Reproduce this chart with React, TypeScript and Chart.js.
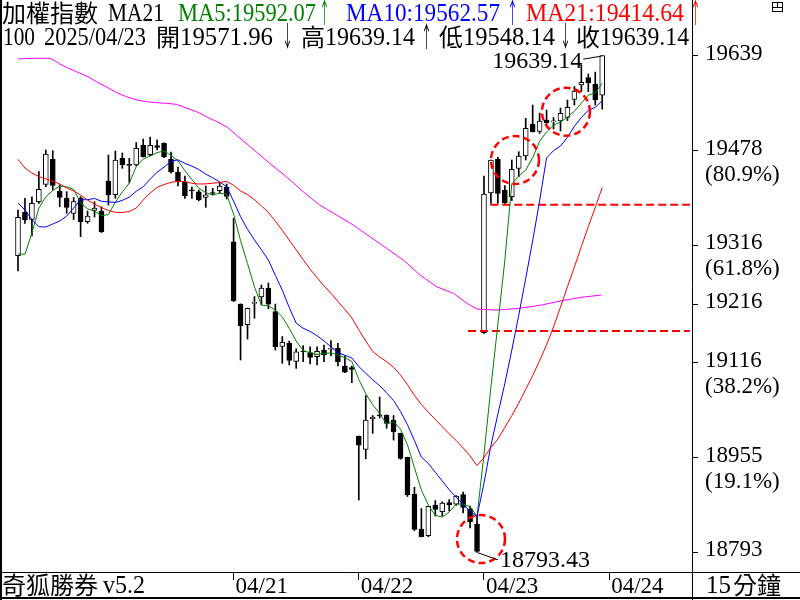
import React, { useEffect, useRef } from "react";
import { Chart, registerables } from "chart.js";

Chart.register(...registerables);

// ---------- data (15-minute bars, 加權指數) ----------
const opens = [
  19298.5, 19372.4, 19360.5, 19390.5, 19420.1, 19462.7, 19408.7, 19396.3, 19370.7, 19396.8,
  19356.7, 19375.5, 19374.6, 19425.7, 19402.4, 19464.4, 19453.5, 19453.0, 19487.0, 19470.5,
  19486.2, 19489.9, 19462.8, 19441.0, 19424.0, 19410.0, 19407.5, 19398.0, 19405.3, 19409.2,
  19415.5, 19322.3, 19216.2, 19181.3, 19217.4, 19228.2, 19243.5, 19203.5, 19143.9, 19149.3,
  19118.3, 19135.5, 19133.7, 19126.5, 19137.9, 19139.3, 19140.8, 19110.7, 19108.1, 18991.4,
  18968.8, 19020.4, 19026.5, 19027.2, 19018.7, 18996.0, 18955.2, 18892.7, 18833.1, 18821.7,
  18873.9, 18862.5, 18878.2, 18875.6, 18891.8, 18867.1, 18841.6, 19167.4, 19405.3, 19462.7,
  19410.4, 19399.0, 19447.3, 19468.3, 19522.8, 19510.4, 19529.6, 19526.4, 19527.9, 19533.9,
  19564.8, 19589.2, 19602.0, 19590.9, 19571.96,
];
const highs = [
  19376.3, 19396.3, 19399.0, 19441.6, 19478.5, 19477.3, 19419.4, 19407.5, 19397.6, 19399.0,
  19374.6, 19390.5, 19381.9, 19470.0, 19476.8, 19473.4, 19464.4, 19491.3, 19497.2, 19500.6,
  19496.0, 19490.9, 19475.1, 19449.6, 19434.2, 19415.5, 19410.4, 19417.2, 19413.3, 19423.2,
  19420.6, 19362.2, 19216.5, 19209.4, 19229.0, 19248.6, 19252.0, 19216.2, 19160.9, 19153.2,
  19140.1, 19145.6, 19143.5, 19143.5, 19146.4, 19154.1, 19149.3, 19127.7, 19110.5, 18991.5,
  19060.4, 19026.4, 19057.9, 19027.5, 19026.4, 18996.3, 18955.5, 18904.1, 18868.0, 18872.2,
  18881.6, 18879.6, 18883.3, 18890.1, 18896.1, 18872.2, 18856.9, 19434.2, 19461.5, 19466.1,
  19418.1, 19461.5, 19475.6, 19532.5, 19555.1, 19541.5, 19546.6, 19533.9, 19550.0, 19563.7,
  19586.6, 19623.3, 19607.9, 19611.3, 19639.14,
];
const lows = [
  19272.5, 19353.7, 19332.1, 19387.7, 19416.0, 19410.4, 19381.9, 19370.7, 19360.1, 19330.9,
  19353.7, 19364.4, 19338.0, 19384.8, 19396.3, 19447.3, 19422.3, 19451.3, 19466.6, 19469.1,
  19478.5, 19465.7, 19439.3, 19417.2, 19395.9, 19396.3, 19392.2, 19380.9, 19401.9, 19404.8,
  19395.1, 19220.2, 19120.9, 19156.6, 19191.9, 19215.0, 19208.2, 19137.9, 19115.3, 19112.4,
  19106.7, 19118.0, 19114.1, 19112.4, 19118.0, 19127.7, 19110.7, 19099.2, 19082.2, 18882.5,
  18952.8, 18996.0, 19022.1, 19004.6, 18984.6, 18951.8, 18888.4, 18830.5, 18819.5, 18820.0,
  18855.2, 18855.2, 18863.7, 18873.1, 18860.3, 18834.8, 18793.43, 19166.4, 19387.7, 19387.7,
  19387.5, 19392.5, 19433.0, 19461.5, 19509.2, 19506.9, 19521.1, 19514.3, 19510.9, 19528.7,
  19555.1, 19577.8, 19577.8, 19555.1, 19548.14,
];
const closes = [
  19363.9, 19359.3, 19387.7, 19411.6, 19471.4, 19418.1, 19397.6, 19380.6, 19390.8, 19356.4,
  19366.1, 19379.7, 19339.4, 19401.9, 19461.5, 19453.5, 19452.5, 19481.4, 19467.1, 19486.5,
  19482.8, 19467.1, 19441.6, 19424.0, 19400.2, 19409.0, 19393.4, 19402.4, 19404.5, 19417.2,
  19399.3, 19221.9, 19179.3, 19208.9, 19218.0, 19243.5, 19216.2, 19143.5, 19151.0, 19120.4,
  19135.0, 19134.5, 19125.5, 19135.7, 19129.4, 19140.0, 19118.0, 19100.4, 19104.7, 18976.1,
  19018.7, 19023.8, 19026.0, 19013.1, 18998.8, 18953.5, 18891.5, 18832.2, 18820.0, 18871.7,
  18866.3, 18877.3, 18874.5, 18889.3, 18869.7, 18845.0, 18795.0, 19403.6, 19461.5, 19404.8,
  19388.8, 19445.6, 19468.3, 19515.5, 19509.7, 19527.9, 19525.0, 19527.0, 19541.0, 19551.2,
  19579.0, 19593.8, 19593.1, 19563.7, 19639.14,
];
const ma5 = [
  19301.4, 19301.0, 19337.2, 19379.7, 19398.8, 19409.6, 19417.3, 19415.9, 19411.7, 19388.7,
  19378.3, 19374.7, 19366.5, 19368.7, 19389.7, 19407.2, 19421.8, 19450.2, 19463.2, 19468.2,
  19474.1, 19477.0, 19469.0, 19460.4, 19443.1, 19428.4, 19413.6, 19405.8, 19401.9, 19405.3,
  19403.4, 19369.1, 19324.4, 19285.3, 19245.5, 19214.3, 19213.2, 19206.0, 19194.4, 19174.9,
  19153.2, 19136.9, 19133.3, 19130.2, 19132.0, 19133.0, 19129.7, 19124.7, 19118.5, 19087.8,
  19063.6, 19044.7, 19029.9, 19011.5, 19016.1, 19003.0, 18976.6, 18937.8, 18899.2, 18873.8,
  18856.3, 18853.5, 18862.0, 18875.8, 18875.4, 18871.2, 18854.7, 18960.5, 19075.0, 19182.0,
  19290.7, 19420.9, 19433.8, 19444.6, 19465.6, 19493.4, 19509.3, 19521.0, 19526.1, 19534.4,
  19544.6, 19558.4, 19571.6, 19576.2, 19592.07,
];
const ma10 = [
  19388.3, 19376.3, 19360.1, 19347.9, 19347.4, 19352.5, 19357.6, 19366.1, 19379.7, 19393.7,
  19394.0, 19396.0, 19391.2, 19390.2, 19389.2, 19392.8, 19398.2, 19408.3, 19416.0, 19429.0,
  19440.6, 19449.4, 19459.6, 19461.8, 19455.7, 19451.2, 19445.3, 19437.4, 19431.2, 19424.2,
  19415.9, 19391.4, 19365.1, 19343.6, 19325.4, 19308.8, 19291.1, 19265.2, 19239.9, 19210.2,
  19183.8, 19175.0, 19169.7, 19162.3, 19153.5, 19143.1, 19133.3, 19129.0, 19124.4, 19109.9,
  19098.3, 19087.2, 19077.3, 19065.0, 19052.0, 19033.3, 19010.7, 18983.8, 18955.4, 18944.9,
  18929.7, 18915.0, 18899.9, 18887.5, 18874.6, 18863.7, 18854.1, 18911.2, 18975.4, 19028.7,
  19081.0, 19137.8, 19197.2, 19259.8, 19323.8, 19392.1, 19465.1, 19477.4, 19485.4, 19500.0,
  19519.0, 19533.8, 19546.3, 19551.1, 19562.57,
];
const ma21 = [
  19462.7, 19447.9, 19439.3, 19433.4, 19429.1, 19425.7, 19420.6, 19413.8, 19408.7, 19401.9,
  19393.4, 19386.5, 19380.6, 19375.5, 19372.4, 19372.1, 19373.8, 19379.7, 19393.4, 19405.3,
  19414.8, 19419.7, 19423.6, 19425.3, 19424.8, 19421.8, 19420.6, 19420.9, 19422.0, 19423.2,
  19425.3, 19418.4, 19408.9, 19402.7, 19393.9, 19383.5, 19372.2, 19357.5, 19341.8, 19325.3,
  19308.5, 19291.9, 19275.7, 19261.1, 19247.1, 19234.7, 19220.8, 19206.9, 19192.7, 19172.3,
  19153.3, 19135.5, 19126.1, 19118.2, 19108.2, 19095.6, 19078.8, 19060.6, 19045.2, 19031.9,
  19019.8, 19007.5, 18995.1, 18983.9, 18971.2, 18957.6, 18941.2, 18954.8, 18972.0, 18986.3,
  19006.0, 19026.3, 19047.5, 19070.8, 19094.4, 19119.6, 19146.8, 19177.1, 19210.8, 19245.7,
  19279.3, 19314.0, 19348.1, 19380.9, 19414.64,
];
const longMaAt = [
  0, 1.7, 4.6, 5.3, 6.0, 7.0, 8.4, 9.9, 11.3, 12.8,
  14.2, 15.6, 17.1, 18.5, 19.9, 21.4, 22.8, 24.3, 25.7, 27.1,
  28.6, 30.0, 31.4, 33.4, 36.2, 38.6, 41.0, 43.4, 45.8, 48.2,
  50.6, 53.0, 55.4, 57.8, 60.2, 62.6, 64.7, 66.0, 68.6, 71.9,
  75.3, 78.2, 81.0, 83.9,
];
const longMaVal = [
  19633.5, 19634.7, 19634.7, 19630.6, 19625.0, 19619.3, 19611.9, 19604.5, 19594.8, 19585.3,
  19576.1, 19569.3, 19563.7, 19560.8, 19559.1, 19558.0, 19556.3, 19549.5, 19543.7, 19535.2,
  19526.7, 19518.2, 19504.1, 19484.1, 19455.9, 19433.1, 19407.5, 19384.8, 19367.8, 19350.8,
  19330.9, 19311.1, 19291.2, 19265.7, 19245.7, 19234.5, 19216.3, 19207.7, 19206.0, 19208.6,
  19214.6, 19221.9, 19227.7, 19231.6,
];
const dayTicks = [31, 49, 67, 85];
const dayLabels = ["04/21", "04/22", "04/23", "04/24"];
const priceTicks = [18793.43, 18954.96, 19116.49, 19216.29, 19316.08, 19477.61, 19639.14];
const priceTickLabels = [
  ["18793", ""], ["18955", "(19.1%)"], ["19116", "(38.2%)"], ["19216", ""],
  ["19316", "(61.8%)"], ["19478", "(80.9%)"], ["19639", ""],
];
const gapFrom = [64.7, 67.9];
const gapLevel = [19170.3, 19385.5];
const gapTo = 96.6;
const markIdx = [66.57, 71.46, 78.79];
const markVal = [18816.0, 19461.5, 19543.7];
const highBar = 84;
const lowBar = 66;

// ---------- layout constants ----------
const SERIF = '"Liberation Serif", "Noto Sans CJK TC", serif';
const CJK = '"Noto Sans CJK TC", "Liberation Serif", sans-serif';
const GREEN = "#008000";
const BLUE = "#0000ff";
const RED = "#ff0000";
const MAGENTA = "#ff00ff";

function fitText(ctx: CanvasRenderingContext2D, text: string, x: number, y: number, width: number | null, font: string, color: string) {
  ctx.save();
  ctx.font = font;
  ctx.fillStyle = color;
  ctx.textAlign = "left";
  ctx.textBaseline = "alphabetic";
  const w = ctx.measureText(text).width;
  ctx.translate(x, y);
  if (width && w > 0) ctx.scale(width / w, 1);
  ctx.fillText(text, 0, 0);
  ctx.restore();
}

const overlayPlugin = {
  id: "overlay",
  beforeDraw(chart: any) {
    const ctx = chart.ctx;
    ctx.save();
    ctx.fillStyle = "#ffffff";
    ctx.fillRect(0, 0, chart.width, chart.height);
    ctx.restore();
  },
  afterDraw(chart: any) {
    const ctx: CanvasRenderingContext2D = chart.ctx;
    const xs = chart.scales.x;
    const ys = chart.scales.y;
    const area = chart.chartArea;
    ctx.save();

    // dashed marker circles
    ctx.strokeStyle = RED;
    ctx.lineWidth = 2.5;
    ctx.setLineDash([7, 4]);
    for (let k = 0; k < markIdx.length; k++) {
      const cx = xs.getPixelForValue(markIdx[k]);
      const cy = ys.getPixelForValue(markVal[k]);
      ctx.beginPath();
      ctx.arc(cx, cy, 24, 0, Math.PI * 2);
      ctx.stroke();
    }
    ctx.setLineDash([]);

    // high / low annotations
    const hx = xs.getPixelForValue(highBar);
    const hy = ys.getPixelForValue(highs[highBar]);
    ctx.strokeStyle = "#000";
    ctx.lineWidth = 1;
    ctx.beginPath();
    ctx.moveTo(hx - 19, hy + 3.5);
    ctx.lineTo(hx - 1, hy + 0.5);
    ctx.stroke();
    ctx.font = "24px " + SERIF;
    ctx.fillStyle = "#000";
    ctx.textAlign = "right";
    ctx.textBaseline = "alphabetic";
    ctx.fillText(highs[highBar].toFixed(2), hx - 20, hy + 12);

    const lx = xs.getPixelForValue(lowBar);
    const ly = ys.getPixelForValue(lows[lowBar]);
    ctx.beginPath();
    ctx.moveTo(lx + 1, ly + 0.5);
    ctx.lineTo(lx + 21, ly + 7.5);
    ctx.stroke();
    ctx.textAlign = "left";
    ctx.fillText(lows[lowBar].toFixed(2), lx + 23, ly + 15);

    // frame
    ctx.fillStyle = "#000";
    ctx.fillRect(0, 0, 2, chart.height);
    ctx.fillRect(0, chart.height - 3, chart.width, 2);
    ctx.fillRect(area.right, area.bottom, chart.width - area.right, 1);
    ctx.fillRect(area.right, area.bottom, 1, chart.height - area.bottom);

    // window icon
    ctx.strokeStyle = "#000";
    ctx.lineWidth = 1;
    ctx.strokeRect(772.5, 2.5, 10, 9);
    ctx.beginPath();
    ctx.moveTo(772, 7.5); ctx.lineTo(783, 7.5);
    ctx.moveTo(777.5, 2); ctx.lineTo(777.5, 7.5);
    ctx.stroke();

    // header line 1
    const L = "25px " + SERIF;
    const C = "24px " + CJK;
    const A = "28px " + CJK;
    fitText(ctx, "加權指數", 2, 22, null, C, "#000");
    fitText(ctx, "MA21", 108, 21, 56, L, "#000");
    fitText(ctx, "MA5:" + ma5[ma5.length - 1].toFixed(2), 178, 21, 138, L, GREEN);
    fitText(ctx, "↑", 319, 23, 11, A, GREEN);
    fitText(ctx, "MA10:" + ma10[ma10.length - 1].toFixed(2), 346, 21, 154, L, BLUE);
    fitText(ctx, "↑", 507, 23, 11, A, BLUE);
    fitText(ctx, "MA21:" + ma21[ma21.length - 1].toFixed(2), 526, 21, 158, L, RED);
    fitText(ctx, "↑", 690, 23, 11, A, RED);

    // header line 2
    const n = closes.length - 1;
    fitText(ctx, "100", 3, 45, 32, L, "#000");
    fitText(ctx, "2025/04/23", 44, 45, 102, L, "#000");
    fitText(ctx, "開", 156, 46, null, C, "#000");
    fitText(ctx, opens[n].toFixed(2), 180, 45, 93, L, "#000");
    fitText(ctx, "↓", 282, 47, 11, A, "#000");
    fitText(ctx, "高", 301, 46, null, C, "#000");
    fitText(ctx, highs[n].toFixed(2), 325, 45, 90, L, "#000");
    fitText(ctx, "↑", 421, 47, 11, A, "#000");
    fitText(ctx, "低", 439, 46, null, C, "#000");
    fitText(ctx, lows[n].toFixed(2), 463, 45, 92, L, "#000");
    fitText(ctx, "↓", 560, 47, 11, A, "#000");
    fitText(ctx, "收", 576, 46, null, C, "#000");
    fitText(ctx, closes[n].toFixed(2), 600, 45, 89, L, "#000");

    // bottom bar
    fitText(ctx, "奇狐勝券", 2, 594, null, C, "#000");
    fitText(ctx, "v5.2", 103, 593, 42, L, "#000");
    fitText(ctx, "15", 706, 593, null, L, "#000");
    fitText(ctx, "分鐘", 733, 594, null, C, "#000");

    ctx.restore();
  },
};

export default function App() {
  const canvasRef = useRef<HTMLCanvasElement | null>(null);

  useEffect(() => {
    const canvas = canvasRef.current;
    if (!canvas) return;

    const wicks = lows.map((l, i) => ({ x: i, y: [l, highs[i]] }));
    const bodies = opens.map((o, i) => ({ x: i, y: [Math.min(o, closes[i]), Math.max(o, closes[i])] }));
    const bodyColors = opens.map((o, i) => (closes[i] >= o ? "#ffffff" : "#000000"));
    const line = (vals: number[], color: string) => ({
      type: "line",
      data: vals.map((v, i) => ({ x: i, y: v })),
      borderColor: color,
      borderWidth: 1,
      pointRadius: 0,
      tension: 0,
      fill: false,
      order: 0,
    });

    const chart = new Chart(canvas, {
      type: "bar",
      data: {
        datasets: [
          {
            type: "bar",
            data: wicks,
            backgroundColor: "#000000",
            borderWidth: 0,
            barThickness: 1,
            grouped: false,
            order: 3,
          },
          {
            type: "bar",
            data: bodies,
            backgroundColor: bodyColors,
            borderColor: "#000000",
            borderWidth: 1,
            borderSkipped: false,
            barThickness: 5,
            minBarLength: 1,
            grouped: false,
            order: 2,
          },
          {
            type: "line",
            data: longMaAt.map((x, i) => ({ x, y: longMaVal[i] })),
            borderColor: MAGENTA,
            borderWidth: 1,
            pointRadius: 0,
            tension: 0,
            fill: false,
            order: 1,
          },
          line(ma21, RED),
          line(ma10, BLUE),
          line(ma5, GREEN),
          ...gapFrom.map((f, k) => ({
            type: "line",
            data: [{ x: f, y: gapLevel[k] }, { x: gapTo, y: gapLevel[k] }],
            borderColor: RED,
            borderWidth: 2,
            borderDash: [8, 4],
            pointRadius: 0,
            fill: false,
            order: 0,
          })),
        ] as any,
      },
      options: {
        responsive: false,
        animation: false,
        devicePixelRatio: 1,
        events: [],
        layout: { padding: 0 },
        plugins: {
          legend: { display: false },
          tooltip: { enabled: false },
          title: { display: false },
        },
        scales: {
          x: {
            type: "linear",
            min: -2.588,
            max: 96.91,
            offset: false,
            bounds: "data",
            grid: { display: true, drawOnChartArea: false, drawTicks: true, tickLength: 8, color: "#000", offset: false },
            border: { display: true, color: "#000", width: 1 },
            ticks: {
              autoSkip: false,
              maxRotation: 0,
              minRotation: 0,
              align: "start",
              padding: -5,
              labelOffset: 2,
              color: "#000",
              font: { family: SERIF, size: 23, lineHeight: "23px" },
              callback: (_v: any, i: number) => dayLabels[i],
            },
            afterBuildTicks: (scale: any) => {
              scale.ticks = dayTicks.map((v) => ({ value: v }));
            },
            afterFit: (scale: any) => {
              scale.height = 28;
              scale.paddingLeft = 0;
              scale.paddingRight = 0;
            },
          },
          y: {
            type: "linear",
            position: "right",
            min: 18759.9,
            max: 19734.0,
            bounds: "data",
            grid: { display: true, drawOnChartArea: false, drawTicks: true, tickLength: 6, color: "#000" },
            border: { display: true, color: "#000", width: 1 },
            ticks: {
              padding: 7,
              labelOffset: 11,
              color: "#000",
              font: { family: SERIF, size: 23, lineHeight: "26px" },
              callback: (_v: any, i: number) => priceTickLabels[i],
            },
            afterBuildTicks: (scale: any) => {
              scale.ticks = priceTicks.map((v) => ({ value: v }));
            },
            afterFit: (scale: any) => {
              scale.width = 108;
              scale.paddingTop = 0;
              scale.paddingBottom = 0;
            },
          },
        },
      } as any,
      plugins: [overlayPlugin],
    });

    return () => chart.destroy();
  }, []);

  return (
    <div style={{ position: "fixed", left: 0, top: 0, width: 800, height: 600, background: "#fff" }}>
      <canvas ref={canvasRef} width={800} height={600} style={{ display: "block", width: 800, height: 600 }} />
    </div>
  );
}
